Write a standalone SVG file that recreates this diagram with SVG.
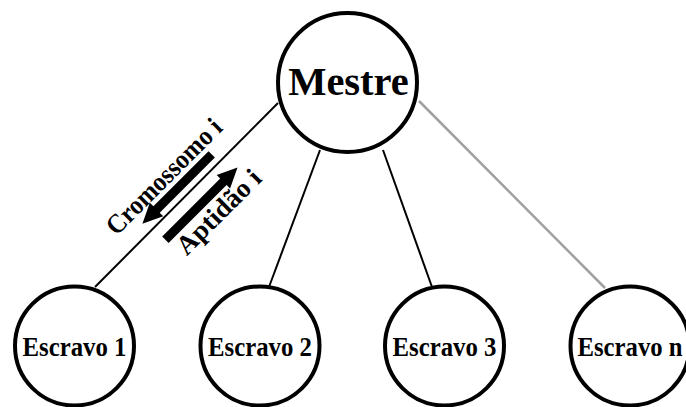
<svg xmlns="http://www.w3.org/2000/svg" width="686" height="407" viewBox="0 0 686 407">
<style>
.node circle{fill:#fff;stroke:#000;stroke-width:4}
.lbl{font-family:"Liberation Serif","Times New Roman",serif;font-weight:bold;fill:#000;text-anchor:middle}
.conn line{stroke:#000;stroke-width:2}
.conn line.grey{stroke:#a0a0a0;stroke-width:2.5}
.arr{fill:#000}
</style>
<rect width="686" height="407" fill="#fff"/>
<g id="connectors" class="conn">
<line x1="278" y1="103" x2="95" y2="287"/>
<line x1="320" y1="150" x2="269" y2="287"/>
<line x1="383" y1="150" x2="432" y2="287"/>
<line class="grey" x1="419" y1="101" x2="605" y2="288"/>
<polygon class="arr" transform="translate(211.7,154.4) rotate(135)" points="0,-4.5 78,-4.5 78,-9.5 98,0 78,9.5 78,4.5 0,4.5"/>
<polygon class="arr" transform="translate(165.4,239.7) rotate(-45)" points="0,-4.5 82,-4.5 82,-9.5 102,0 82,9.5 82,4.5 0,4.5"/>
<text class="lbl" font-size="27" textLength="152" lengthAdjust="spacingAndGlyphs" transform="translate(170.25,182.75) rotate(-45)">Cromossomo i</text>
<text class="lbl" font-size="27" textLength="108" lengthAdjust="spacingAndGlyphs" transform="translate(224.9,218.2) rotate(-45)">Aptidão i</text>
</g>
<g id="mestre" class="node">
<circle cx="347.5" cy="82.5" r="69.5"/>
<text class="lbl" x="348.5" y="95" font-size="40.5">Mestre</text>
</g>
<g id="escravo1" class="node">
<circle cx="74.5" cy="346" r="59.5"/>
<text class="lbl" x="74.5" y="356" font-size="27.5" textLength="104" lengthAdjust="spacingAndGlyphs">Escravo 1</text>
</g>
<g id="escravo2" class="node">
<circle cx="260" cy="346" r="59.5"/>
<text class="lbl" x="260" y="356" font-size="27.5" textLength="104" lengthAdjust="spacingAndGlyphs">Escravo 2</text>
</g>
<g id="escravo3" class="node">
<circle cx="444.5" cy="346" r="59.5"/>
<text class="lbl" x="444.5" y="356" font-size="27.5" textLength="104" lengthAdjust="spacingAndGlyphs">Escravo 3</text>
</g>
<g id="escravon" class="node">
<circle cx="630" cy="346" r="59.5"/>
<text class="lbl" x="630" y="356" font-size="27.5" textLength="105" lengthAdjust="spacingAndGlyphs">Escravo n</text>
</g>
</svg>
